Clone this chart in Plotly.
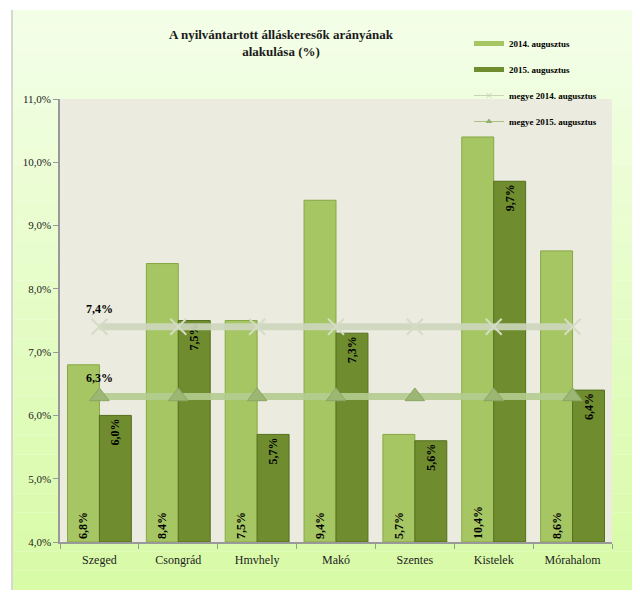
import plotly.graph_objects as go

categories = ["Szeged", "Csongrád", "Hmvhely", "Makó", "Szentes", "Kistelek", "Mórahalom"]
aug_2014 = [6.8, 8.4, 7.5, 9.4, 5.7, 10.4, 8.6]
aug_2015 = [6.0, 7.5, 5.7, 7.3, 5.6, 9.7, 6.4]
megye_2014 = [7.4, 7.4, 7.4, 7.4, 7.4, 7.4, 7.4]
megye_2015 = [6.3, 6.3, 6.3, 6.3, 6.3, 6.3, 6.3]
y_ticks = [4, 5, 6, 7, 8, 9, 10, 11]
axis_min = y_ticks[0]

def fmt(v):
    return f"{v:.1f}".replace(".", ",") + "%"

serif = "Liberation Serif, Times New Roman, serif"
c14, c14l = "#a6c663", "#86a744"
c15, c15l = "#6f8c2f", "#55701e"
cm14, cm15 = "rgba(205,214,188,0.9)", "rgba(180,204,143,0.9)"

fig = go.Figure()
fig.add_trace(go.Bar(
    x=categories, y=[v - axis_min for v in aug_2014], base=axis_min, name="2014. augusztus",
    marker=dict(color=c14, line=dict(color=c14l, width=1)),
    text=[fmt(v) for v in aug_2014], textposition="inside", insidetextanchor="start",
    textangle=-90, textfont=dict(family=serif, size=12, color="black", weight="bold"),
    showlegend=False, hoverinfo="skip",
))
fig.add_trace(go.Bar(
    x=categories, y=[v - axis_min for v in aug_2015], base=axis_min, name="2015. augusztus",
    marker=dict(color=c15, line=dict(color=c15l, width=1)),
    text=[fmt(v) for v in aug_2015], textposition="inside", insidetextanchor="end",
    textangle=-90, textfont=dict(family=serif, size=12, color="black", weight="bold"),
    showlegend=False, hoverinfo="skip",
))
fig.add_trace(go.Scatter(
    x=categories, y=megye_2014, name="megye 2014. augusztus", mode="lines+markers+text",
    line=dict(color=cm14, width=7),
    marker=dict(symbol="x-thin", size=16, line=dict(color="#d5dcc6", width=2), color="#d5dcc6"),
    text=[fmt(megye_2014[0])] + [""] * (len(categories) - 1), textposition="top center",
    textfont=dict(family=serif, size=12, color="black", weight="bold"),
    showlegend=False,
))
fig.add_trace(go.Scatter(
    x=categories, y=megye_2015, name="megye 2015. augusztus", mode="lines+markers+text",
    line=dict(color=cm15, width=7),
    marker=dict(symbol="triangle-up", size=17, color="#9cb774", line=dict(color="#8aa663", width=1)),
    text=[fmt(megye_2015[0])] + [""] * (len(categories) - 1), textposition="top center",
    textfont=dict(family=serif, size=12, color="black", weight="bold"),
    showlegend=False,
))

# legend-only entries
fig.add_trace(go.Scatter(x=[None], y=[None], mode="lines", name="2014. augusztus",
                         line=dict(color=c14, width=5), legendgroup="a"))
fig.add_trace(go.Scatter(x=[None], y=[None], mode="lines", name="2015. augusztus",
                         line=dict(color=c15, width=5), legendgroup="b"))
fig.add_trace(go.Scatter(x=[None], y=[None], mode="lines+markers", name="megye 2014. augusztus",
                         line=dict(color="#c9d3b5", width=1),
                         marker=dict(symbol="x-thin", size=5, line=dict(color="#c9d3b5", width=1)),
                         legendgroup="c"))
fig.add_trace(go.Scatter(x=[None], y=[None], mode="lines+markers", name="megye 2015. augusztus",
                         line=dict(color="#a9c282", width=1),
                         marker=dict(symbol="triangle-up", size=6, color="#94b06a"),
                         legendgroup="d"))

# page offset (body margin) compensation
OFF = 8
L, T, W, H = 60 - OFF, 99 - OFF, 552, 443
def px2x(px):
    return (px - OFF - L) / W
def py2y(py):
    return (T + H - (py - OFF)) / H

shapes = []
top_c = (244, 255, 233)
bot_c = (216, 251, 166)
y0p, y1p = 10, 590
n = 30
for i in range(n):
    a = y0p + (y1p - y0p) * i / n
    b = y0p + (y1p - y0p) * (i + 1) / n
    t = (i + 0.5) / n
    c = tuple(int(top_c[k] + (bot_c[k] - top_c[k]) * t) for k in range(3))
    shapes.append(dict(type="rect", xref="paper", yref="paper", layer="below",
                       x0=px2x(12), x1=px2x(632), y0=py2y(b), y1=py2y(a),
                       fillcolor=f"rgb{c}", line=dict(width=0)))
shapes.append(dict(type="line", xref="paper", yref="paper", layer="below",
                   x0=px2x(12), x1=px2x(12), y0=py2y(590), y1=py2y(10),
                   line=dict(color="#d8d8d0", width=2)))
# plot area background
shapes.append(dict(type="rect", xref="paper", yref="paper", layer="below",
                   x0=0, x1=1, y0=0, y1=1, fillcolor="#ebecdf", line=dict(width=0)))

fig.update_layout(
    width=640, height=596,
    margin=dict(l=L, r=640 - L - W, t=T, b=596 - T - H, autoexpand=False),
    paper_bgcolor="white", plot_bgcolor="rgba(0,0,0,0)",
    separators=",.",
    barmode="group", bargap=0.19, bargroupgap=0,
    shapes=shapes,
    font=dict(family=serif, size=11, color="#222"),
    legend=dict(x=px2x(469), y=py2y(29), xanchor="left", yanchor="top",
                bgcolor="rgba(0,0,0,0)", font=dict(family=serif, size=9, color="black", weight="bold"),
                tracegroupgap=7, itemwidth=30),
    annotations=[dict(text="<b>A nyilvántartott álláskeresők arányának<br>alakulása (%)</b>",
                      xref="paper", yref="paper", x=px2x(281), y=py2y(25), xanchor="center", yanchor="top",
                      showarrow=False, font=dict(family=serif, size=13, color="#1a1a1a"))],
    xaxis=dict(showgrid=False, ticks="outside", tickson="boundaries", ticklen=5, tickcolor="#999",
               showline=True, linecolor="#999", linewidth=1.5, ticklabelstandoff=6,
               tickfont=dict(family=serif, size=12, color="#222")),
    yaxis=dict(range=[axis_min, y_ticks[-1]], tickvals=y_ticks, ticktext=[fmt(v) for v in y_ticks],
               showgrid=False, zeroline=False, ticks="outside", ticklen=5, tickcolor="#999",
               showline=True, linecolor="#999", linewidth=1.5,
               tickfont=dict(family=serif, size=11, color="#222")),
)

fig.write_html("out.html")
